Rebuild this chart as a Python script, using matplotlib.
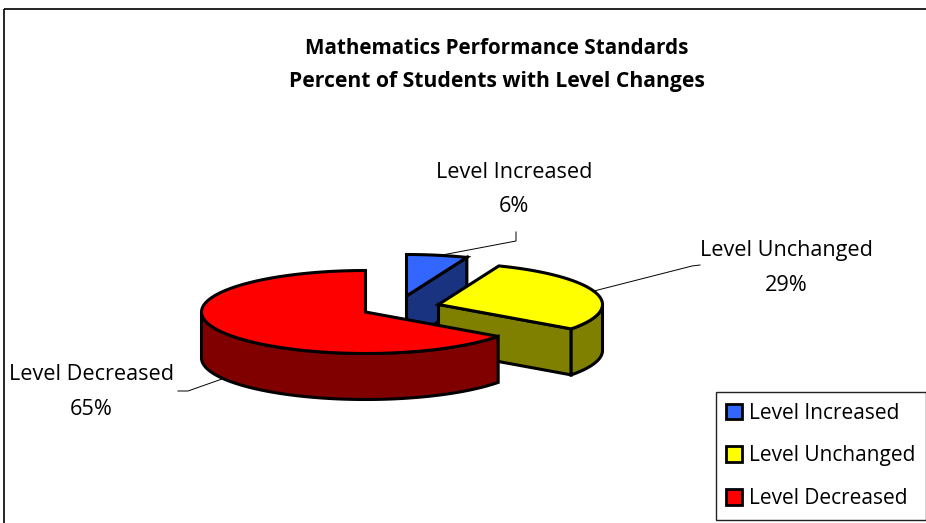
import numpy as np
import matplotlib
matplotlib.use("Agg")
import matplotlib.pyplot as plt
from matplotlib.patches import Polygon, Patch

categories = ["Level Increased", "Level Unchanged", "Level Decreased"]
values = [6, 29, 65]
top_colors = ["#3366FF", "#FFFF00", "#FF0000"]
side_colors = ["#1A3380", "#808000", "#800000"]
title_lines = ["Mathematics Performance Standards", "Percent of Students with Level Changes"]

plt.rcParams["font.family"] = "Open Sans"

W, H = 926, 523
fig = plt.figure(figsize=(W / 100, H / 100), dpi=100, facecolor="white")
ax = fig.add_axes([0, 0, 1, 1])
ax.set_xlim(0, W)
ax.set_ylim(H, 0)
ax.axis("off")

RX, RY, DEPTH = 164, 41.5, 46
apexes = [(406.5, 296), (438.5, 304.5), (365.5, 312)]
LW = 2.2


def arc(apex, a0, a1, n=120):
    t = np.radians(np.linspace(a0, a1, n))
    return np.column_stack([apex[0] + RX * np.cos(t), apex[1] - RY * np.sin(t)])


def poly(pts, fc):
    ax.add_patch(Polygon(pts, closed=True, fc=fc, ec="black", lw=LW, joinstyle="miter"))


drop = np.array([0, DEPTH])
start = 90.0
for i, v in enumerate(values):
    sweep = 360 * v / sum(values)
    a0, a1 = start, start - sweep
    apex = np.array(apexes[i])
    rim = arc(apex, a0, a1)
    if i < 2:
        # cut face on the clockwise edge, turned towards the viewer
        poly([apex, rim[-1], rim[-1] + drop, apex + drop], side_colors[i])
        lo, hi = a1, 0.0
    else:
        # outer wall of the big slice, from its start to the left extreme
        lo, hi = -180.0, a0
    if hi > lo:
        wall = arc(apex, lo, hi)
        poly(np.vstack([wall, (wall + drop)[::-1]]), side_colors[i])
    poly(np.vstack([apex[None, :], rim]), top_colors[i])
    start = a1

# leader lines
leaders = [
    ([516, 516, 437], [232, 241, 256]),
    ([700, 692, 594], [265, 266, 291]),
    ([178, 188, 222], [391, 391, 379]),
]
for xs, ys in leaders:
    ax.plot(xs, ys, color="black", lw=0.7, solid_joinstyle="miter")

# data labels
label_pos = [(514, 189.5), (786, 268), (91.5, 392)]
for name, v, (x, y) in zip(categories, values, label_pos):
    ax.text(x, y, f"{name}\n{v}%", ha="center", va="center", fontsize=15.6,
            linespacing=1.86, color="black")

# titles
ax.text(497, 49, title_lines[0], ha="center", va="center", fontsize=14.85, fontweight="bold")
ax.text(496.5, 82, title_lines[1], ha="center", va="center", fontsize=15.2, fontweight="bold")

# chart frame
ax.plot([3.5, 3.5], [H, 9], color="black", lw=1.2, solid_capstyle="butt")
ax.plot([3.5, W], [9, 9], color="black", lw=1.2, solid_capstyle="butt")

# legend
handles = [Patch(fc=c, ec="black", lw=2.0) for c in top_colors]
leg = ax.legend(handles, categories, loc="lower right", bbox_to_anchor=(925.5, 519.5),
                bbox_transform=ax.transData, fontsize=15, frameon=True, fancybox=False,
                framealpha=1, edgecolor="#222222", handlelength=0.77, handleheight=0.77,
                handletextpad=0.3, labelspacing=1.04, borderpad=0.5, borderaxespad=0)
leg.get_frame().set_linewidth(1.0)

fig.savefig("out.png", dpi=100, facecolor="white")
